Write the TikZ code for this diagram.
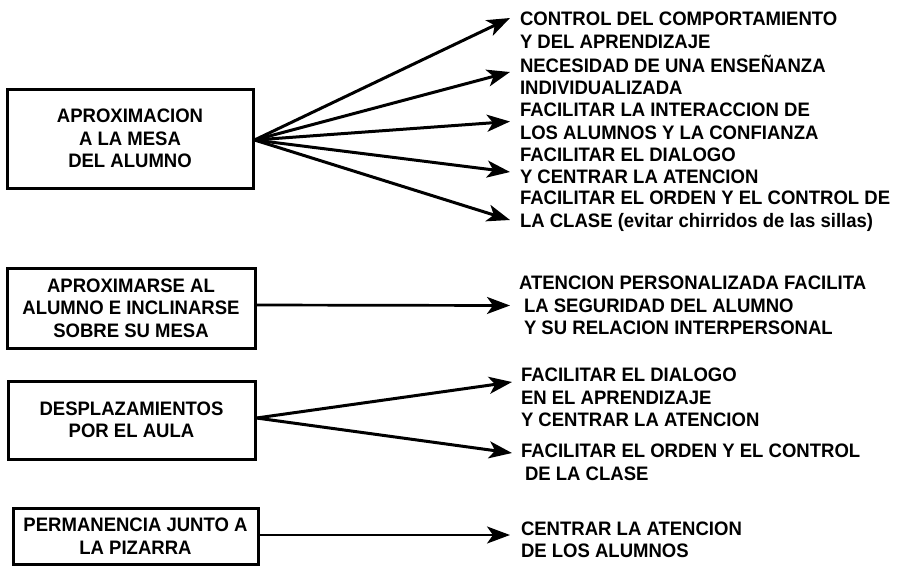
\documentclass[tikz,border=0pt]{standalone}
\usepackage{fontspec}
\setmainfont{Liberation Sans}[FakeStretch=0.95]
\usepackage{tikz}
\usetikzlibrary{arrows.meta}
\tikzset{caja/.style={rectangle,draw,line width=3pt,inner sep=0pt,align=center,font=\bfseries\fontsize{19.5}{22.5}\selectfont}}
\tikzset{txt/.style={anchor=west,inner sep=0pt,outer sep=0pt,align=left,font=\bfseries\fontsize{19.5}{22.5}\selectfont}}

\begin{document}
\begin{tikzpicture}[x=1pt,y=-1pt,>={Stealth[length=23pt,width=17pt,inset=6pt]},line width=3pt]
        \useasboundingbox (0,0) rectangle (907,566);
        \node[caja,minimum width=246pt,minimum height=99pt] (a) at (130,138.5) {APROXIMACION\\A LA MESA\\DEL ALUMNO};
        \node[caja,minimum width=248pt,minimum height=80pt] (b) at (131,308) {APROXIMARSE AL\\ALUMNO E INCLINARSE\\SOBRE SU MESA};
        \node[caja,minimum width=247pt,minimum height=78pt] (c) at (131.5,420) {DESPLAZAMIENTOS\\POR EL AULA};
        \node[caja,minimum width=245pt,minimum height=56pt] (d) at (135.5,536) {PERMANENCIA JUNTO A\\LA PIZARRA};

        \node[txt] (e) at (520,30.5) {CONTROL DEL COMPORTAMIENTO\\Y DEL APRENDIZAJE};
        \node[txt] (f) at (520,75) {NECESIDAD DE UNA ENSEÑANZA\\INDIVIDUALIZADA};
        \node[txt] (g) at (520,121.5) {FACILITAR LA INTERACCION DE\\LOS ALUMNOS Y LA CONFIANZA};
        \node[txt] (h) at (520,166) {FACILITAR EL DIALOGO\\Y CENTRAR LA ATENCION};
        \node[txt] (i) at (520,211) {FACILITAR EL ORDEN Y EL CONTROL DE\\LA CLASE (evitar chirridos de las sillas)};
        \node[txt] (j) at (519,305.5) {ATENCION PERSONALIZADA FACILITA\\\hspace*{5pt}LA SEGURIDAD DEL ALUMNO\\\hspace*{5pt}Y SU RELACION INTERPERSONAL};
        \node[txt] (k) at (521,397.5) {FACILITAR EL DIALOGO\\EN EL APRENDIZAJE\\Y CENTRAR LA ATENCION};
        \node[txt] (l) at (521,462.5) {FACILITAR EL ORDEN Y EL CONTROL\\\hspace*{4pt}DE LA CLASE};
        \node[txt] (m) at (521,540) {CENTRAR LA ATENCION\\DE LOS ALUMNOS};

        \draw [->] ([yshift=-1.5pt]a.east) to ([xshift=-10pt,yshift=12.5pt]e.west);
        \draw [->] ([yshift=-1.5pt]a.east) to ([xshift=-10pt,yshift=3pt]f.west);
        \draw [->] ([yshift=-1.5pt]a.east) to ([xshift=-10pt]g.west);
        \draw [->] ([yshift=-1.5pt]a.east) to ([xshift=-10pt,yshift=-6pt]h.west);
        \draw [->] ([yshift=-1.5pt]a.east) to ([xshift=-10pt,yshift=-9pt]i.west);
        \draw [->,line width=2.7pt] ([yshift=3pt]b.east) to ([xshift=-9pt]j.west);
        \draw [->] ([yshift=2pt]c.east) to ([xshift=-9pt,yshift=15.5pt]k.west);
        \draw [->] ([yshift=2pt]c.east) to ([xshift=-9pt,yshift=9.5pt]l.west);
        \draw [->,line width=2.4pt] ([yshift=1pt]d.east) to ([xshift=-11pt,yshift=5pt]m.west);
    \end{tikzpicture}
\end{document}
